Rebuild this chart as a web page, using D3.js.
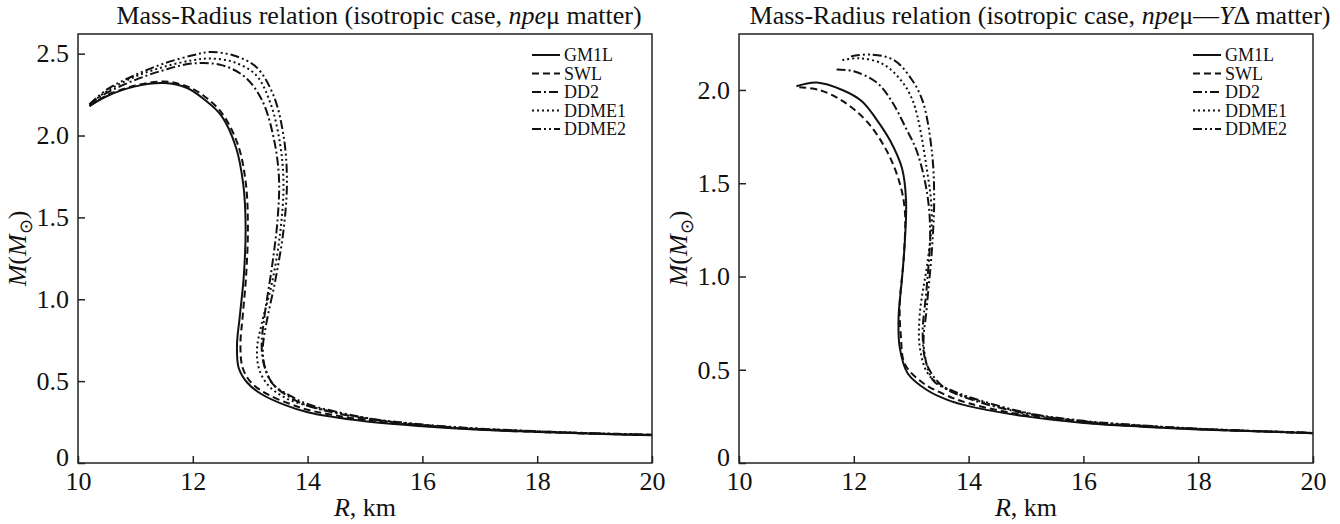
<!DOCTYPE html>
<html>
<head>
<meta charset="utf-8">
<script src="https://cdn.jsdelivr.net/npm/d3@7"></script>
<style>
  body { margin: 0; background: #fff; }
  svg text, svg tspan { font-family: "Liberation Serif", "Times New Roman", serif !important; fill: #111; }
</style>
</head>
<body>
<div id="chart"></div>
<script>
/* Mass-Radius relation, two panels */

const width = 1340, height = 524;

// series names (legend order)
const seriesNames = ["GM1L", "SWL", "DD2", "DDME1", "DDME2"];

// x / y ticks
const xTicks = [10, 12, 14, 16, 18, 20];
const yTicksLeft = [0, 0.5, 1.0, 1.5, 2.0, 2.5];
const yTicksRight = [0, 0.5, 1.0, 1.5, 2.0];

// left panel: npeμ matter, [R km, M]
const npeGM1L = [[10.2,2.18],[10.5,2.24],[11.0,2.30],[11.5,2.32],[11.9,2.29],[12.2,2.22],[12.5,2.12],[12.75,1.93],[12.88,1.70],[12.92,1.45],[12.89,1.15],[12.82,0.90],[12.77,0.72],[12.8,0.58],[12.95,0.49],[13.2,0.42],[13.6,0.355],[14,0.31],[15,0.255],[16,0.225],[17,0.203],[18,0.19],[19,0.178],[20,0.17]];
const npeSWL = [[10.2,2.18],[10.5,2.245],[11.0,2.305],[11.5,2.33],[11.9,2.30],[12.2,2.24],[12.5,2.14],[12.78,1.95],[12.92,1.72],[12.96,1.45],[12.93,1.15],[12.87,0.90],[12.83,0.72],[12.87,0.58],[13.02,0.49],[13.3,0.42],[13.7,0.36],[14,0.325],[15,0.262],[16,0.228],[17,0.205],[18,0.19],[19,0.179],[20,0.17]];
const npeDD2 = [[10.2,2.19],[10.5,2.26],[11.0,2.34],[11.5,2.40],[12.0,2.44],[12.5,2.43],[12.9,2.36],[13.2,2.22],[13.4,2.0],[13.5,1.75],[13.48,1.5],[13.38,1.2],[13.25,0.9],[13.2,0.72],[13.24,0.6],[13.4,0.48],[13.7,0.40],[14,0.35],[15,0.272],[16,0.232],[17,0.208],[18,0.193],[19,0.18],[20,0.172]];
const npeDDME1 = [[10.2,2.19],[10.5,2.27],[11.0,2.36],[11.5,2.42],[12.0,2.46],[12.3,2.47],[12.7,2.45],[13.1,2.37],[13.35,2.2],[13.52,1.95],[13.58,1.7],[13.52,1.4],[13.38,1.1],[13.2,0.85],[13.12,0.7],[13.15,0.58],[13.3,0.48],[13.6,0.40],[14,0.35],[15,0.275],[16,0.233],[17,0.208],[18,0.193],[19,0.181],[20,0.172]];
const npeDDME2 = [[10.2,2.19],[10.5,2.28],[11.0,2.37],[11.5,2.44],[12.0,2.49],[12.3,2.51],[12.7,2.49],[13.1,2.42],[13.4,2.25],[13.58,2.0],[13.64,1.72],[13.58,1.42],[13.44,1.12],[13.28,0.85],[13.22,0.7],[13.26,0.58],[13.4,0.48],[13.7,0.41],[14,0.36],[15,0.277],[16,0.235],[17,0.21],[18,0.194],[19,0.182],[20,0.173]];

// right panel: npeμ—YΔ matter
const hypGM1L = [[11.0,2.02],[11.35,2.04],[11.8,2.0],[12.14,1.94],[12.4,1.84],[12.63,1.73],[12.84,1.58],[12.91,1.41],[12.89,1.19],[12.84,0.99],[12.78,0.78],[12.8,0.62],[12.94,0.48],[13.28,0.39],[13.62,0.34],[14,0.305],[15,0.25],[16,0.215],[17,0.195],[18,0.18],[19,0.17],[20,0.16]];
const hypSWL = [[11.05,2.015],[11.4,2.0],[11.81,1.94],[12.23,1.83],[12.58,1.67],[12.8,1.5],[12.89,1.35],[12.87,1.1],[12.8,0.85],[12.82,0.68],[12.89,0.53],[13.2,0.43],[13.6,0.365],[14,0.32],[15,0.255],[16,0.218],[17,0.197],[18,0.181],[19,0.17],[20,0.16]];
const hypDD2 = [[11.7,2.11],[12.0,2.10],[12.4,2.04],[12.66,1.94],[12.9,1.8],[13.1,1.67],[13.28,1.44],[13.33,1.23],[13.27,0.94],[13.2,0.69],[13.27,0.53],[13.55,0.41],[14,0.345],[15,0.265],[16,0.222],[17,0.2],[18,0.183],[19,0.171],[20,0.161]];
const hypDDME1 = [[11.8,2.16],[12.1,2.17],[12.5,2.14],[12.8,2.06],[13.03,1.94],[13.27,1.58],[13.36,1.32],[13.29,1.09],[13.15,0.8],[13.15,0.62],[13.29,0.48],[13.6,0.40],[14,0.35],[15,0.268],[16,0.224],[17,0.2],[18,0.183],[19,0.171],[20,0.161]];
const hypDDME2 = [[11.95,2.18],[12.3,2.19],[12.7,2.16],[13.0,2.06],[13.2,1.94],[13.36,1.67],[13.4,1.41],[13.36,1.14],[13.27,0.83],[13.22,0.62],[13.39,0.44],[13.7,0.39],[14,0.355],[15,0.27],[16,0.226],[17,0.202],[18,0.184],[19,0.172],[20,0.162]];

// line styles for each series
const dashes = ["none", "7,4", "9,3,2,3", "2,3", "9,3,2,3,2,3"];

const svg = d3.select("#chart")
    .append("svg")
    .attr("width", width)
    .attr("height", height);

const panels = [
  { left: 78, right: 652, top: 34, bottom: 463, ymax: 2.62, yTicks: yTicksLeft,
    series: [npeGM1L, npeSWL, npeDD2, npeDDME1, npeDDME2],
    title: ["Mass-Radius relation (isotropic case, ", "npe", "μ matter)"] },
  { left: 739, right: 1313, top: 34, bottom: 463, ymax: 2.3, yTicks: yTicksRight,
    series: [hypGM1L, hypSWL, hypDD2, hypDDME1, hypDDME2],
    title: ["Mass-Radius relation (isotropic case, ", "npe", "μ—", "Y", "Δ matter)"] }
];

panels.forEach(p => {
  const g = svg.append("g");

  let x = d3.scaleLinear().domain([10, 20]).range([p.left, p.right]);
  let y = d3.scaleLinear().domain([0, p.ymax]).range([p.bottom, p.top]);

  // clip for the curves
  const clipId = "clip" + p.left;
  svg.append("clipPath").attr("id", clipId)
    .append("rect")
    .attr("x", p.left).attr("y", p.top)
    .attr("width", p.right - p.left).attr("height", p.bottom - p.top);

  // curves
  let line = d3.line()
      .x(d => x(d[0]))
      .y(d => y(d[1]))
      .curve(d3.curveCatmullRom.alpha(0.5));

  p.series.forEach((s, i) => {
    g.append("path")
      .datum(s)
      .attr("clip-path", `url(#${clipId})`)
      .attr("d", line)
      .attr("fill", "none")
      .attr("stroke", "#111")
      .attr("stroke-width", 2)
      .attr("stroke-dasharray", dashes[i]);
  });

  // x axis (ticks pointing inward)
  const xa = g.append("g")
    .attr("transform", `translate(0,${p.bottom})`)
    .call(d3.axisBottom(x).tickValues(xTicks).tickSize(-7).tickPadding(9).tickFormat(d3.format("d")));
  xa.select(".domain").remove();
  xa.selectAll("line").attr("stroke", "#222").attr("stroke-width", 1.5);
  xa.selectAll("text").attr("font-size", 26).attr("fill", "#111");

  // y axis
  const ya = g.append("g")
    .attr("transform", `translate(${p.left},0)`)
    .call(d3.axisLeft(y).tickValues(p.yTicks).tickSize(-7).tickPadding(9)
      .tickFormat(d => d === 0 ? "0" : d3.format(".1f")(d)));
  ya.select(".domain").remove();
  ya.selectAll("line").attr("stroke", "#222").attr("stroke-width", 1.5);
  ya.selectAll("text").attr("font-size", 26).attr("fill", "#111");
  ya.selectAll(".tick").filter(d => d === 0).select("text").attr("dy", "0.1em");

  // frame
  g.append("rect")
    .attr("x", p.left).attr("y", p.top)
    .attr("width", p.right - p.left).attr("height", p.bottom - p.top)
    .attr("fill", "none")
    .attr("stroke", "#222")
    .attr("stroke-width", 1.5);

  // title
  const t = g.append("text")
    .attr("x", (p.left + p.right) / 2 + 14)
    .attr("y", 24)
    .attr("text-anchor", "middle")
    .attr("font-size", 26);
  p.title.forEach(part => {
    t.append("tspan")
      .attr("font-style", (part === "npe" || part === "Y") ? "italic" : "normal")
      .text(part);
  });

  // x label
  const xl = g.append("text")
    .attr("x", (p.left + p.right) / 2)
    .attr("y", 516)
    .attr("text-anchor", "middle")
    .attr("font-size", 26);
  xl.append("tspan").attr("font-style", "italic").text("R");
  xl.append("tspan").text(", km");

  // y label
  const yl = g.append("text")
    .attr("transform", `translate(${p.left - 52},${(p.top + p.bottom) / 2}) rotate(-90)`)
    .attr("text-anchor", "middle")
    .attr("font-size", 26);
  yl.append("tspan").attr("font-style", "italic").text("M");
  yl.append("tspan").text("(");
  yl.append("tspan").attr("font-style", "italic").text("M");
  yl.append("tspan").attr("font-size", 18).attr("dy", 6).text("⊙");
  yl.append("tspan").attr("dy", -6).text(")");

  // legend
  seriesNames.forEach((name, i) => {
    const ly = 55 + i * 18.5;
    g.append("line")
      .attr("x1", p.right - 120).attr("x2", p.right - 92)
      .attr("y1", ly).attr("y2", ly)
      .attr("stroke", "#111")
      .attr("stroke-width", 2)
      .attr("stroke-dasharray", dashes[i]);
    g.append("text")
      .attr("x", p.right - 88)
      .attr("y", ly)
      .attr("dy", "0.35em")
      .attr("font-size", 18)
      .text(name);
  });
});
</script>
</body>
</html>
